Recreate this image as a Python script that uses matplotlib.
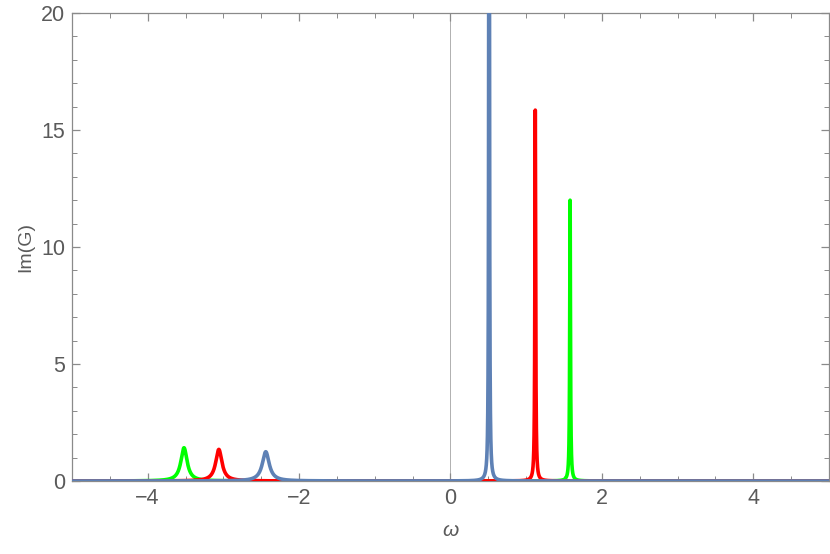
import numpy as np
import matplotlib
matplotlib.use("Agg")
import matplotlib.pyplot as plt
from matplotlib.ticker import MultipleLocator

# Peak parameters (centre, height, half-width)
green_centers = [-3.52, 1.58]
green_heights = [1.42, 12.0]
green_widths = [0.05, 0.006]

red_centers = [-3.06, 1.12]
red_heights = [1.35, 15.85]
red_widths = [0.05, 0.006]

blue_centers = [-2.44, 0.51]
blue_heights = [1.25, 60.0]
blue_widths = [0.055, 0.004]

x_ticks = [-4, -2, 0, 2, 4]
y_ticks = [0, 5, 10, 15, 20]

plt.rcParams['font.family'] = ['Liberation Sans', 'DejaVu Sans']
plt.rcParams['mathtext.fontset'] = 'custom'
plt.rcParams['mathtext.it'] = 'Liberation Sans:italic'
plt.rcParams['mathtext.rm'] = 'Liberation Sans'

w = np.linspace(-5, 5, 40001)


def spectrum(centers, heights, widths):
    # sum of Lorentzian peaks, each given by centre / peak height / half-width
    total = np.zeros_like(w)
    for c, h, g in zip(centers, heights, widths):
        total += h * g**2 / ((w - c)**2 + g**2)
    return total


fig = plt.figure(figsize=(8.3, 5.54), dpi=100)
ax = fig.add_axes([0.0867, 0.1318, 0.9121, 0.8447])

ax.axvline(0, color='#b0b0b0', lw=0.7, zorder=1)

ax.plot(w, spectrum(green_centers, green_heights, green_widths), color='#00ff00', lw=2.6, zorder=2)
ax.plot(w, spectrum(red_centers, red_heights, red_widths), color='#ff0000', lw=2.6, zorder=3)
ax.plot(w, spectrum(blue_centers, blue_heights, blue_widths), color='#5e81b5', lw=2.6, zorder=4)

ax.set_xlim(-5, 5)
ax.set_ylim(0, 20)
ax.set_xticks(x_ticks)
ax.set_yticks(y_ticks)
ax.set_xticklabels(['\u2212' + str(-t) if t < 0 else str(t) for t in x_ticks])
ax.xaxis.set_minor_locator(MultipleLocator(0.5))
ax.yaxis.set_minor_locator(MultipleLocator(1))

for s in ax.spines.values():
    s.set_color('#8a8a8a')
    s.set_linewidth(0.9)

ax.tick_params(which='both', direction='in', top=True, right=True, color='#8a8a8a',
               labelcolor='#5a5a5a', labelsize=15.5)
ax.tick_params(which='major', length=6, width=0.9, pad=5)
ax.tick_params(which='minor', length=3.5, width=0.7)

ax.set_xlabel(r'$\omega$', fontsize=15, color='#5a5a5a', labelpad=9)
ax.set_ylabel('Im(G)', fontsize=14, color='#5a5a5a', labelpad=5)

fig.savefig('out.png', dpi=100)
